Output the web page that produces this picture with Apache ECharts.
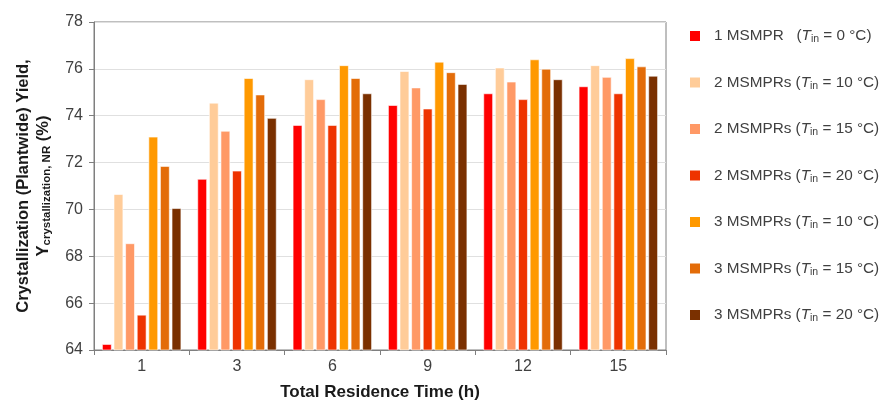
<!DOCTYPE html>
<html><head><meta charset="utf-8">
<script src="https://cdn.jsdelivr.net/npm/echarts@6/dist/echarts.min.js"></script>
<style>html,body{margin:0;padding:0;background:#fff;overflow:hidden}#c{width:881px;height:403px}</style>
</head><body><div id="c"></div>
<script>
const categories = ['1', '3', '6', '9', '12', '15'];
const seriesNames = ['1 MSMPR', '2 MSMPRs', '2 MSMPRs', '2 MSMPRs', '3 MSMPRs', '3 MSMPRs', '3 MSMPRs'];
const seriesTemps = ['0', '10', '15', '20', '10', '15', '20'];
const s1_0  = [64.25, 71.30, 73.60, 74.45, 74.95, 75.25];
const s2_10 = [70.65, 74.55, 75.55, 75.90, 76.05, 76.15];
const s2_15 = [68.55, 73.35, 74.70, 75.20, 75.45, 75.65];
const s2_20 = [65.50, 71.65, 73.60, 74.30, 74.70, 74.95];
const s3_10 = [73.10, 75.60, 76.15, 76.30, 76.40, 76.45];
const s3_15 = [71.85, 74.90, 75.60, 75.85, 76.00, 76.10];
const s3_20 = [70.05, 73.90, 74.95, 75.35, 75.55, 75.70];
const yTicks = [64, 66, 68, 70, 72, 74, 76, 78];

const allData = [s1_0, s2_10, s2_15, s2_20, s3_10, s3_15, s3_20];
const colors = ['#FF0000', '#FFCC99', '#FF9966', '#EE3300', '#FF9900', '#E36C09', '#7A3000'];
const keys = seriesNames.map((n, i) => 'k' + i);

const chart = echarts.init(document.getElementById('c'));
const fontFam = '"Liberation Sans", Arial, sans-serif';
const txt = '#404040';
chart.setOption({
  animation: false,
  color: colors,
  textStyle: { fontFamily: fontFam },
  grid: { left: 94, right: 215, top: 22, bottom: 53, show: true, borderColor: '#7f7f7f', borderWidth: 1, outerBoundsMode: 'none', containLabel: false },
  legend: {
    orient: 'vertical', left: 683, top: 23, itemWidth: 12, itemHeight: 12, itemGap: 29.5,
    icon: 'rect',
    data: keys,
    formatter: function (name) {
      const i = keys.indexOf(name);
      const pad = i === 0 ? '   ' : ' ';
      return '{t|' + seriesNames[i] + pad + '(}{i|T}{s|in}{t| = ' + seriesTemps[i] + ' °C)}';
    },
    textStyle: {
      color: txt, fontSize: 15.3, fontFamily: fontFam, padding: [0, 0, 0, 8],
      rich: {
        t: { fontSize: 15.3, color: txt, fontFamily: fontFam, lineHeight: 18 },
        i: { fontSize: 15.3, color: txt, fontStyle: 'italic', fontFamily: fontFam, lineHeight: 18 },
        s: { fontSize: 10.5, color: txt, fontFamily: fontFam, verticalAlign: 'bottom', padding: [6, 0, 0, 0], lineHeight: 18 }
      }
    }
  },
  xAxis: {
    type: 'category', data: categories,
    name: 'Total Residence Time (h)', nameLocation: 'middle', nameGap: 34,
    nameTextStyle: { fontSize: 17, fontWeight: 'bold', color: '#1a1a1a', fontFamily: fontFam },
    axisLine: { lineStyle: { color: '#7f7f7f' } },
    axisTick: { show: true, alignWithLabel: false, length: 5, lineStyle: { color: '#7f7f7f' } },
    axisLabel: { fontSize: 16, color: txt, margin: 9 }
  },
  yAxis: {
    type: 'value', min: 64, max: 78, interval: 2,
    name: '{b|Crystallization (Plantwide) Yield,}\n{b|Y}{sub|crystallization, NR}{b| (%)}',
    nameLocation: 'middle', nameGap: 41, nameRotate: 90,
    nameTextStyle: {
      rich: {
        b: { fontSize: 16.5, fontWeight: 'bold', color: '#1a1a1a', fontFamily: fontFam, lineHeight: 20 },
        sub: { fontSize: 11.5, fontWeight: 'bold', color: '#1a1a1a', fontFamily: fontFam, verticalAlign: 'bottom', padding: [8, 0, 0, 0], lineHeight: 20 }
      }
    },
    axisLine: { show: true, lineStyle: { color: '#7f7f7f' } },
    axisTick: { show: true, length: 5, lineStyle: { color: '#7f7f7f' } },
    axisLabel: { fontSize: 16, color: txt, margin: 11 },
    splitLine: { lineStyle: { color: '#e0e0e0' } }
  },
  series: allData.map((d, i) => ({
    name: keys[i], type: 'bar', data: d,
    barGap: '22%', barCategoryGap: '17%',
    itemStyle: { color: colors[i], borderColor: '#ffffff', borderWidth: 0.6 }
  }))
});
</script></body></html>
